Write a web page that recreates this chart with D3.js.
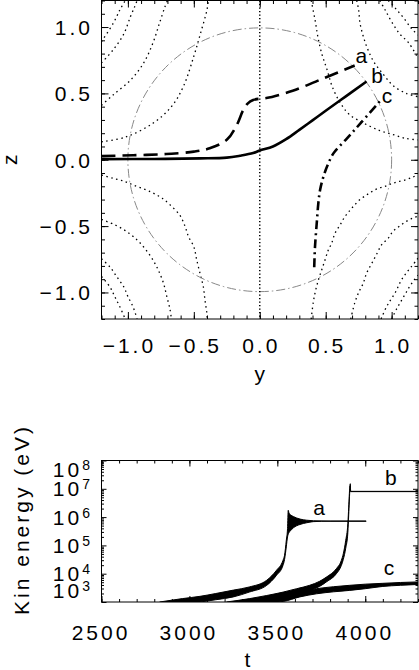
<!DOCTYPE html>
<html>
<head>
<meta charset="utf-8">
<script src="https://cdn.jsdelivr.net/npm/d3@7"></script>
<style>
  body { margin: 0; background: #fff; }
  svg { display: block; }
  text { font-family: "Liberation Sans", Arial, sans-serif; font-size: 21px; letter-spacing: 3px; fill: #000; }
  .frame { fill: none; stroke: #000; stroke-width: 1; }
  .field { fill: none; stroke: #000; stroke-width: 1.3; stroke-dasharray: 1.5 3.5; }
  .axis0 { fill: none; stroke: #000; stroke-width: 1.5; stroke-dasharray: 1.3 2.2; }
  .unit { fill: none; stroke: #888; stroke-width: 1; stroke-dasharray: 9 3 1.5 3; }
  .traj { fill: none; stroke: #000; stroke-width: 2.6; }
  .band { fill: #000; stroke: #000; stroke-width: 1; stroke-linejoin: round; }
</style>
</head>
<body>
<script>
'use strict';

// ---- top panel: field lines (y, z), one per quadrant curve
const fieldUL1 = [[-1.2,0.135],[-1.02,0.17],[-0.81,0.275],[-0.67,0.40],[-0.58,0.55],[-0.50,0.78],[-0.45,0.95],[-0.40,1.13],[-0.39,1.2]];
const fieldUL2 = [[-1.2,0.41],[-1.11,0.49],[-0.98,0.60],[-0.88,0.73],[-0.81,0.88],[-0.76,1.03],[-0.72,1.15],[-0.70,1.2]];
const fieldUL3 = [[-1.2,0.73],[-1.11,0.83],[-1.03,0.95],[-0.98,1.08],[-0.95,1.15],[-0.93,1.2]];
const fieldUL4 = [[-1.2,0.89],[-1.11,1.03],[-1.06,1.13],[-1.02,1.2]];
const fieldUR1 = [[0.39,1.2],[0.42,1.05],[0.44,0.93],[0.47,0.80],[0.51,0.68],[0.55,0.55],[0.61,0.43],[0.68,0.34],[0.79,0.275],[0.91,0.22],[1.01,0.19],[1.11,0.16],[1.2,0.15]];
const fieldUR2 = [[0.735,1.2],[0.75,1.13],[0.76,1.03],[0.785,0.93],[0.82,0.83],[0.87,0.73],[0.94,0.64],[1.01,0.56],[1.11,0.50],[1.2,0.475]];
const fieldUR3 = [[0.91,1.2],[0.95,1.13],[1.0,1.04],[1.06,0.95],[1.13,0.88],[1.2,0.765]];
const fieldUR4 = [[0.975,1.2],[1.03,1.14],[1.09,1.07],[1.15,0.99],[1.2,0.94]];
const fieldLL1 = [[-1.2,-0.115],[-1.11,-0.14],[-1.02,-0.165],[-0.96,-0.19],[-0.88,-0.22],[-0.81,-0.25],[-0.74,-0.29],[-0.68,-0.34],[-0.605,-0.42],[-0.567,-0.50],[-0.54,-0.58],[-0.50,-0.655],[-0.478,-0.755],[-0.453,-0.856],[-0.428,-0.957],[-0.415,-1.06],[-0.402,-1.15],[-0.398,-1.2]];
const fieldLL2 = [[-1.2,-0.45],[-1.10,-0.49],[-1.01,-0.54],[-0.93,-0.605],[-0.87,-0.67],[-0.81,-0.755],[-0.77,-0.83],[-0.73,-0.93],[-0.705,-1.03],[-0.68,-1.13],[-0.67,-1.2]];
const fieldLL3 = [[-1.2,-0.745],[-1.135,-0.81],[-1.085,-0.88],[-1.03,-0.96],[-1.0,-1.03],[-0.96,-1.11],[-0.93,-1.2]];
const fieldLL4 = [[-1.2,-0.88],[-1.135,-0.96],[-1.10,-1.03],[-1.06,-1.11],[-1.02,-1.2]];
const fieldLR1 = [[0.39,-1.2],[0.405,-1.08],[0.42,-1.0],[0.445,-0.905],[0.47,-0.83],[0.495,-0.755],[0.52,-0.68],[0.545,-0.63],[0.57,-0.555],[0.61,-0.49],[0.645,-0.43],[0.685,-0.38],[0.72,-0.34],[0.76,-0.30],[0.81,-0.265],[0.85,-0.24],[0.90,-0.215],[0.95,-0.20],[1.0,-0.18],[1.05,-0.165],[1.11,-0.15],[1.16,-0.13],[1.2,-0.115]];
const fieldLR2 = [[0.69,-1.2],[0.72,-1.08],[0.75,-1.0],[0.785,-0.93],[0.81,-0.855],[0.85,-0.78],[0.89,-0.705],[0.925,-0.64],[0.975,-0.59],[1.01,-0.54],[1.06,-0.50],[1.11,-0.465],[1.16,-0.44],[1.2,-0.425]];
const fieldLR3 = [[0.92,-1.2],[0.96,-1.11],[0.99,-1.06],[1.025,-1.005],[1.05,-0.955],[1.075,-0.905],[1.11,-0.855],[1.15,-0.805],[1.19,-0.755],[1.2,-0.74]];
const fieldLR4 = [[1.0,-1.2],[1.04,-1.12],[1.075,-1.06],[1.11,-1.0],[1.14,-0.95],[1.175,-0.9],[1.2,-0.87]];

// ---- top panel: particle trajectories a, b, c (y, z)
const trajA = [[-1.2,0.027],[-0.96,0.034],[-0.71,0.043],[-0.50,0.061],[-0.38,0.086],[-0.25,0.15],[-0.175,0.26],[-0.125,0.375],[-0.09,0.425],[-0.05,0.45],[0.0,0.46],[0.05,0.465],[0.25,0.52],[0.5,0.62],[0.72,0.71]];
const trajB = [[-1.2,0.005],[-0.8,0.006],[-0.45,0.01],[-0.25,0.016],[-0.15,0.03],[-0.05,0.05],[0.0,0.07],[0.1,0.10],[0.2,0.155],[0.3,0.225],[0.4,0.297],[0.5,0.369],[0.65,0.476],[0.81,0.59]];
const trajC = [[0.413,-0.81],[0.419,-0.655],[0.432,-0.48],[0.444,-0.33],[0.457,-0.23],[0.482,-0.13],[0.515,-0.04],[0.56,0.05],[0.66,0.16],[0.76,0.27],[0.91,0.44]];
const trajNames = ['a', 'b', 'c'];
const trajLabelY = [0.77, 0.89, 0.965];
const trajLabelZ = [0.73, 0.58, 0.43];
const unitRadius = [1.0];

const topTickVals = [-1.0, -0.5, 0.0, 0.5, 1.0];
const topTickLabels = ['\u22121.0', '\u22120.5', '0.0', '0.5', '1.0'];

// ---- bottom panel: kinetic energy bands, log10(E/eV) upper and lower envelope
const aT  = [2830, 2960, 3060, 3150, 3250, 3340, 3440, 3495, 3532, 3541, 3551, 3558, 3562, 3566, 3575, 3591, 3629, 3667, 3705, 3800, 4005];
const aHi = [3.0, 3.12, 3.2, 3.30, 3.42, 3.53, 3.77, 4.12, 4.47, 4.65, 5.18, 5.6, 6.24, 6.15, 6.08, 6.02, 5.93, 5.89, 5.87, 5.86, 5.86];
const aLo = [2.9, 2.95, 3.0, 3.08, 3.18, 3.35, 3.59, 3.94, 4.29, 4.5, 4.95, 5.3, 5.4, 5.45, 5.52, 5.62, 5.74, 5.80, 5.84, 5.855, 5.855];
const bT  = [3210, 3343, 3440, 3533, 3610, 3684, 3740, 3779, 3836, 3864, 3875, 3889, 3901, 3906, 3912, 3915, 3917, 4300];
const bHi = [3.0, 3.12, 3.23, 3.35, 3.47, 3.59, 3.73, 3.88, 4.18, 4.47, 4.7, 5.18, 5.77, 6.35, 7.06, 7.18, 6.91, 6.91];
const bLo = [2.9, 3.0, 3.08, 3.18, 3.29, 3.41, 3.55, 3.71, 4.0, 4.29, 4.5, 4.9, 5.45, 6.1, 6.9, 7.1, 6.90, 6.90];
const cT  = [3250, 3343, 3440, 3533, 3628, 3723, 3820, 3912, 4000, 4100, 4200, 4300];
const cHi = [3.0, 3.04, 3.13, 3.24, 3.36, 3.47, 3.54, 3.59, 3.63, 3.66, 3.69, 3.71];
const cLo = [2.9, 2.95, 2.98, 3.02, 3.18, 3.29, 3.36, 3.41, 3.47, 3.55, 3.59, 3.62];
const bandLabelT = [3737, 4146, 4135];
const bandLabelE = [6.07, 7.13, 3.95];

const timeTicks = [2500, 3000, 3500, 4000];
const energyExps = [3, 4, 5, 6, 7, 8];

const LS = 3; // letter spacing, compensated on anchors

const svg = d3.select('body').append('svg')
  .attr('width', 419)
  .attr('height', 670);

// inward ticks on a frame edge using d3 axes
function ticks(axisFn, scale, values, size, transform) {
  let ax = axisFn(scale).tickValues(values).tickSize(-size).tickFormat('');
  let g = svg.append('g').attr('transform', transform).call(ax);
  g.select('.domain').remove();
  g.selectAll('line').attr('stroke', '#000');
}

// ================= top panel =================
let xS = d3.scaleLinear().domain([-1.2, 1.2]).range([101.5, 418]);
let zS = d3.scaleLinear().domain([-1.2, 1.2]).range([319, 0.5]);

svg.append('clipPath').attr('id', 'clipTop')
  .append('rect')
    .attr('x', xS(-1.2)).attr('y', zS(1.2))
    .attr('width', xS(1.2) - xS(-1.2)).attr('height', zS(-1.2) - zS(1.2));

let topG = svg.append('g').attr('clip-path', 'url(#clipTop)');

let fieldLine = d3.line()
  .x((d) => xS(d[0]))
  .y((d) => zS(d[1]))
  .curve(d3.curveCatmullRom);

let fieldLines = [fieldUL1, fieldUL2, fieldUL3, fieldUL4, fieldUR1, fieldUR2, fieldUR3, fieldUR4,
                  fieldLL1, fieldLL2, fieldLL3, fieldLL4, fieldLR1, fieldLR2, fieldLR3, fieldLR4];

topG.selectAll('path.field')
  .data(fieldLines)
  .enter()
  .append('path')
    .attr('class', 'field')
    .attr('d', fieldLine);

// unit circle
topG.selectAll('circle.unit')
  .data(unitRadius)
  .enter()
  .append('circle')
    .attr('class', 'unit')
    .attr('cx', xS(0))
    .attr('cy', zS(0))
    .attr('r', (d) => xS(d) - xS(0));

// y = 0 line
topG.append('line')
  .attr('class', 'axis0')
  .attr('x1', xS(0)).attr('x2', xS(0))
  .attr('y1', zS(1.2)).attr('y2', zS(-1.2));

let trajStyles = ['14 7', null, '9 4 2 4'];
[trajA, trajB, trajC].forEach((tr, i) => {
  topG.append('path')
    .datum(tr)
    .attr('class', 'traj')
    .attr('stroke-dasharray', trajStyles[i])
    .attr('d', fieldLine);
});

svg.selectAll('text.trajlab')
  .data(trajNames)
  .enter()
  .append('text')
    .attr('class', 'trajlab')
    .attr('x', (d, i) => xS(trajLabelY[i]) + LS / 2)
    .attr('y', (d, i) => zS(trajLabelZ[i]))
    .attr('text-anchor', 'middle')
    .text((d) => d);

let minorTop = d3.range(-12, 13).map((i) => i / 10);
ticks(d3.axisBottom, xS, minorTop, 3.5, 'translate(0,' + zS(-1.2) + ')');
ticks(d3.axisBottom, xS, topTickVals, 7, 'translate(0,' + zS(-1.2) + ')');
ticks(d3.axisTop, xS, minorTop, 3.5, 'translate(0,' + zS(1.2) + ')');
ticks(d3.axisTop, xS, topTickVals, 7, 'translate(0,' + zS(1.2) + ')');
ticks(d3.axisLeft, zS, minorTop, 3.5, 'translate(' + xS(-1.2) + ',0)');
ticks(d3.axisLeft, zS, topTickVals, 7, 'translate(' + xS(-1.2) + ',0)');
ticks(d3.axisRight, zS, minorTop, 3.5, 'translate(' + xS(1.2) + ',0)');
ticks(d3.axisRight, zS, topTickVals, 7, 'translate(' + xS(1.2) + ',0)');

svg.append('rect')
  .attr('class', 'frame')
  .attr('x', xS(-1.2)).attr('y', zS(1.2))
  .attr('width', xS(1.2) - xS(-1.2)).attr('height', zS(-1.2) - zS(1.2));

// tick labels
svg.selectAll('text.xtl')
  .data(topTickVals)
  .enter()
  .append('text')
    .attr('class', 'xtl')
    .attr('x', (d) => xS(d) + LS / 2)
    .attr('y', 353)
    .attr('text-anchor', 'middle')
    .text((d, i) => topTickLabels[i]);

svg.selectAll('text.ztl')
  .data(topTickVals)
  .enter()
  .append('text')
    .attr('class', 'ztl')
    .attr('x', 90 + LS)
    .attr('y', (d) => zS(d) + 8)
    .attr('text-anchor', 'end')
    .text((d, i) => topTickLabels[i]);

svg.append('text')
  .attr('x', xS(0) + LS / 2)
  .attr('y', 381)
  .attr('text-anchor', 'middle')
  .text('y');

svg.append('text')
  .attr('transform', 'translate(17,' + (zS(0) - LS / 2) + ')rotate(-90)')
  .attr('text-anchor', 'middle')
  .text('z');

// ================= bottom panel =================
let tS = d3.scaleLinear().domain([2500, 4300]).range([101.5, 418]);
let eS = d3.scaleLog().domain([1e3, 1e8]).range([602, 460.5]);

svg.append('clipPath').attr('id', 'clipBot')
  .append('rect')
    .attr('x', tS(2500)).attr('y', eS(1e8))
    .attr('width', tS(4300) - tS(2500)).attr('height', eS(1e3) - eS(1e8));

let botG = svg.append('g').attr('clip-path', 'url(#clipBot)');

let band = d3.area()
  .x((d) => tS(d.t))
  .y0((d) => eS(Math.pow(10, d.lo)))
  .y1((d) => eS(Math.pow(10, d.hi)))
  .curve(d3.curveMonotoneX);

let bands = [[aT, aHi, aLo], [bT, bHi, bLo], [cT, cHi, cLo]].map((s) =>
  s[0].map((t, i) => ({t: t, hi: s[1][i], lo: s[2][i]})));

botG.selectAll('path.band')
  .data(bands)
  .enter()
  .append('path')
    .attr('class', 'band')
    .attr('d', band);

svg.selectAll('text.bandlab')
  .data(trajNames)
  .enter()
  .append('text')
    .attr('class', 'bandlab')
    .attr('x', (d, i) => tS(bandLabelT[i]) + LS / 2)
    .attr('y', (d, i) => eS(Math.pow(10, bandLabelE[i])))
    .attr('text-anchor', 'middle')
    .text((d) => d);

let minorT = d3.range(2500, 4301, 100);
let majorE = energyExps.map((k) => Math.pow(10, k));
let minorE = [];
energyExps.slice(0, -1).forEach((k) => {
  for (let m = 2; m <= 9; m++) minorE.push(m * Math.pow(10, k));
});

ticks(d3.axisBottom, tS, minorT, 3, 'translate(0,' + eS(1e3) + ')');
ticks(d3.axisBottom, tS, timeTicks, 6, 'translate(0,' + eS(1e3) + ')');
ticks(d3.axisTop, tS, minorT, 3, 'translate(0,' + eS(1e8) + ')');
ticks(d3.axisTop, tS, timeTicks, 6, 'translate(0,' + eS(1e8) + ')');
ticks(d3.axisLeft, eS, minorE, 2.5, 'translate(' + tS(2500) + ',0)');
ticks(d3.axisLeft, eS, majorE, 5, 'translate(' + tS(2500) + ',0)');
ticks(d3.axisRight, eS, minorE, 2.5, 'translate(' + tS(4300) + ',0)');
ticks(d3.axisRight, eS, majorE, 5, 'translate(' + tS(4300) + ',0)');

svg.append('rect')
  .attr('class', 'frame')
  .attr('x', tS(2500)).attr('y', eS(1e8))
  .attr('width', tS(4300) - tS(2500)).attr('height', eS(1e3) - eS(1e8));

svg.selectAll('text.ttl')
  .data(timeTicks)
  .enter()
  .append('text')
    .attr('class', 'ttl')
    .attr('x', (d) => tS(d) - 0.5)
    .attr('y', 640)
    .attr('text-anchor', 'middle')
    .text((d) => d);

// decade labels, kept inside the frame height like the original
let etl = svg.selectAll('text.etl')
  .data(energyExps)
  .enter()
  .append('text')
    .attr('class', 'etl')
    .attr('x', 90 + LS)
    .attr('y', (d) => {
      let c = Math.min(Math.max(eS(Math.pow(10, d)), eS(1e8) + 8.5), eS(1e3) - 12);
      return c + 7.5;
    })
    .attr('text-anchor', 'end');

etl.append('tspan').text('10');
etl.append('tspan')
  .attr('dy', -7)
  .style('font-size', '14px')
  .text((d) => d);

svg.append('text')
  .attr('x', 247.5 + LS / 2)
  .attr('y', 667)
  .attr('text-anchor', 'middle')
  .text('t');

svg.append('text')
  .attr('transform', 'translate(29,' + (521 - LS / 2) + ')rotate(-90)')
  .attr('text-anchor', 'middle')
  .text('Kin energy (eV)');
</script>
</body>
</html>
